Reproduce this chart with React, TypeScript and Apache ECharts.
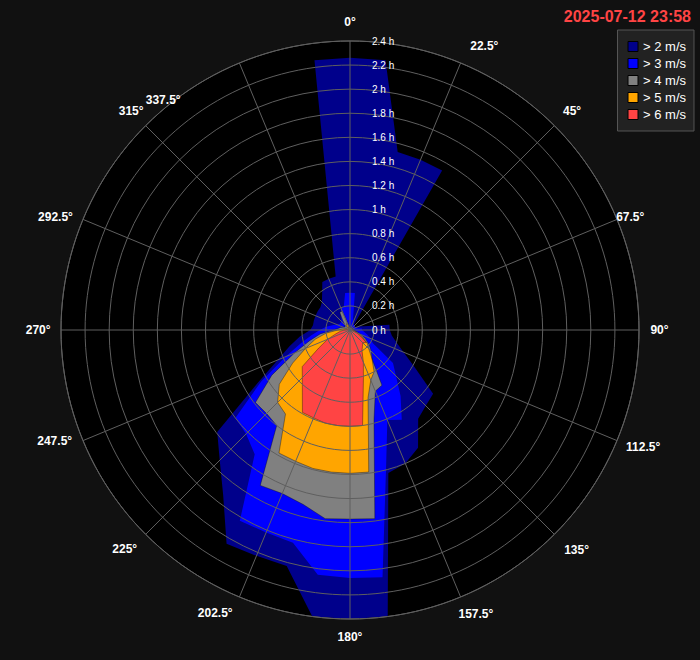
import React, { useEffect, useRef } from 'react';
import * as echarts from 'echarts';

// Wind directions (degrees), 7.5° resolution
const directions = [
  0, 7.5, 15, 22.5, 30, 37.5, 45, 52.5, 60, 67.5, 75, 82.5,
  90, 97.5, 105, 112.5, 120, 127.5, 135, 142.5, 150, 157.5, 165, 172.5,
  180, 187.5, 195, 202.5, 210, 217.5, 225, 232.5, 240, 247.5, 255, 262.5,
  270, 277.5, 285, 292.5, 300, 307.5, 315, 322.5, 330, 337.5, 345, 352.5,
];

// Hours per direction for each wind-speed threshold
const over2 = [
  2.26, 2.26, 1.53, 1.53, 1.53, 0.05, 0.05, 0.05, 0.05, 0.08, 0.12, 0.33,
  0.33, 0.35, 0.4, 0.48, 0.62, 0.87, 0.89, 0.93, 1.13, 1.2, 1.23, 2.4,
  2.4, 2.4, 2.03, 2.03, 2.05, 1.73, 1.53, 1.39, 0.89, 0.65, 0.52, 0.42,
  0.33, 0.31, 0.31, 0.31, 0.31, 0.31, 0.33, 0.38, 0.46, 0.46, 0.46, 2.26,
];
const over3 = [
  0.31, 0.31, 0.1, 0.08, 0.06, 0.05, 0.05, 0.05, 0.05, 0.05, 0.06, 0.1,
  0.1, 0.12, 0.15, 0.18, 0.22, 0.45, 0.54, 0.69, 0.86, 0.81, 1.16, 2.07,
  2.06, 2.05, 1.83, 1.82, 1.83, 1.3, 1.22, 1.2, 0.85, 0.58, 0.42, 0.32,
  0.25, 0.2, 0.15, 0.12, 0.1, 0.1, 0.1, 0.12, 0.15, 0.2, 0.2, 0.31,
];
const over4 = [
  0.03, 0.03, 0.02, 0.02, 0.02, 0.02, 0.02, 0.02, 0.02, 0.02, 0.02, 0.03,
  0.03, 0.04, 0.06, 0.1, 0.15, 0.2, 0.25, 0.3, 0.53, 0.55, 0.77, 1.58,
  1.57, 1.58, 1.5, 1.47, 1.49, 1.0, 0.98, 0.99, 0.75, 0.5, 0.35, 0.25,
  0.14, 0.1, 0.08, 0.06, 0.05, 0.05, 0.06, 0.1, 0.17, 0.17, 0.05, 0.03,
];
const over5 = [
  0.02, 0.02, 0.02, 0.02, 0.02, 0.02, 0.02, 0.02, 0.02, 0.02, 0.02, 0.02,
  0.02, 0.03, 0.05, 0.08, 0.12, 0.18, 0.22, 0.3, 0.4, 0.45, 0.58, 1.19,
  1.19, 1.19, 1.19, 1.18, 1.18, 0.88, 0.85, 0.74, 0.55, 0.4, 0.3, 0.2,
  0.1, 0.06, 0.04, 0.03, 0.03, 0.03, 0.03, 0.04, 0.06, 0.06, 0.03, 0.02,
];
const over6 = [
  0.01, 0.01, 0.01, 0.01, 0.01, 0.01, 0.01, 0.01, 0.01, 0.01, 0.01, 0.01,
  0.01, 0.02, 0.04, 0.06, 0.1, 0.17, 0.15, 0.17, 0.2, 0.29, 0.43, 0.8,
  0.8, 0.8, 0.8, 0.79, 0.79, 0.65, 0.56, 0.5, 0.3, 0.2, 0.12, 0.08,
  0.05, 0.03, 0.02, 0.02, 0.02, 0.02, 0.02, 0.02, 0.03, 0.03, 0.02, 0.01,
];

const seriesNames = ['> 2 m/s', '> 3 m/s', '> 4 m/s', '> 5 m/s', '> 6 m/s'];
const seriesValues = [over2, over3, over4, over5, over6];
const seriesColors = ['#00008b', '#0000ff', '#808080', '#ffa500', '#ff4444'];

const radiusTicks = { min: 0, max: 2.4, interval: 0.2 };
const angleTicks = { min: 0, max: 360, interval: 22.5 };
const timestamp = '2025-07-12 23:58';

// Compass tick labels and where their centres sit, as radius (h) and angle (°)
const angleLabels = [
  '0°', '22.5°', '45°', '67.5°', '90°', '112.5°', '135°', '157.5°',
  '180°', '202.5°', '225°', '247.5°', '270°', '292.5°', '315°', '337.5°',
];
const angleLabelRadius = [
  2.56, 2.61, 2.59, 2.51, 2.57, 2.62, 2.62, 2.58,
  2.55, 2.6, 2.61, 2.62, 2.59, 2.62, 2.57, 2.46,
];
const angleLabelAngle = [
  0, 25.3, 45.4, 68, 90, 111.7, 134.1, 156.1,
  180, 205.5, 225.8, 249.4, 270, 291, 315, 320.9,
];

const FONT = '"Liberation Sans", Arial, Helvetica, sans-serif';

export default function App() {
  const ref = useRef<HTMLDivElement>(null);

  useEffect(() => {
    if (!ref.current) return;
    const chart = echarts.init(ref.current, undefined, { renderer: 'svg' });

    const series: any[] = seriesValues.map((vals, s) => {
      const data = directions.map((d, i) => [vals[i], d]);
      data.push([vals[0], 360]);
      return {
        name: seriesNames[s],
        type: 'line',
        coordinateSystem: 'polar',
        polarIndex: 0,
        data,
        symbol: 'none',
        showSymbol: false,
        clip: false,
        color: seriesColors[s],
        lineStyle: { color: 'rgba(0,0,0,0.35)', width: s < 2 ? 0 : 1 },
        areaStyle: { color: seriesColors[s], opacity: 1 },
        z: 2,
      };
    });

    series.push({
      name: 'compass',
      type: 'scatter',
      coordinateSystem: 'polar',
      polarIndex: 1,
      silent: true,
      clip: false,
      symbol: 'circle',
      symbolSize: 1,
      itemStyle: { color: 'rgba(0,0,0,0)' },
      data: angleLabels.map((t, i) => [angleLabelRadius[i], angleLabelAngle[i]]),
      label: {
        show: true,
        position: 'inside',
        color: '#ffffff',
        opacity: 1,
        textBorderWidth: 0,
        textShadowBlur: 0,
        fontSize: 12,
        fontWeight: 'bold',
        fontFamily: FONT,
        formatter: (p: any) => angleLabels[p.dataIndex],
      },
      z: 12,
    });

    const gridColor = '#5f5f5f';
    const common = { center: [350, 330], radius: 289 };

    chart.setOption({
      animation: false,
      backgroundColor: '#111111',
      textStyle: { fontFamily: FONT },
      title: {
        text: timestamp,
        right: 4,
        top: 3,
        textStyle: { color: '#ff4444', fontSize: 16, fontWeight: 'bold', fontFamily: FONT },
      },
      legend: {
        orient: 'vertical',
        right: 6,
        top: 30,
        backgroundColor: '#222222',
        borderColor: '#555555',
        borderWidth: 1,
        padding: [10, 8, 10, 10],
        itemWidth: 10,
        itemHeight: 10,
        itemGap: 4,
        icon: 'rect',
        textStyle: { color: '#ffffff', fontSize: 13, fontFamily: FONT },
        data: seriesNames.map((n, i) => ({
          name: n,
          icon: 'rect',
          itemStyle: { color: seriesColors[i], borderColor: '#000', borderWidth: 1 },
        })),
      },
      polar: [common, common],
      angleAxis: [
        {
          polarIndex: 0,
          type: 'value',
          ...angleTicks,
          startAngle: 90,
          clockwise: true,
          axisLine: { show: false },
          axisTick: { show: false },
          axisLabel: { show: false },
          splitLine: { show: false },
          splitArea: { show: true, areaStyle: { color: ['#000000'] } },
          z: 0,
        },
        {
          polarIndex: 1,
          type: 'value',
          ...angleTicks,
          startAngle: 90,
          clockwise: true,
          axisLine: { show: true, lineStyle: { color: gridColor, width: 1 } },
          axisTick: { show: false },
          axisLabel: { show: false },
          splitLine: { show: true, lineStyle: { color: gridColor, width: 1 } },
          z: 10,
        },
      ],
      radiusAxis: [
        {
          polarIndex: 0,
          type: 'value',
          ...radiusTicks,
          axisLine: { show: false },
          axisTick: { show: false },
          axisLabel: { show: false },
          splitLine: { show: false },
          z: 0,
        },
        {
          polarIndex: 1,
          type: 'value',
          ...radiusTicks,
          axisLine: { show: false },
          axisTick: { show: false },
          axisLabel: {
            color: '#ffffff',
            fontSize: 10,
            fontFamily: FONT,
            margin: -22,
            align: 'left',
            formatter: (v: number) => `${v} h`,
          },
          splitLine: { show: true, lineStyle: { color: gridColor, width: 1 } },
          z: 10,
        },
      ],
      series,
    });

    return () => chart.dispose();
  }, []);

  return (
    <div
      ref={ref}
      style={{ position: 'fixed', left: 0, top: 0, width: 700, height: 660 }}
    />
  );
}
